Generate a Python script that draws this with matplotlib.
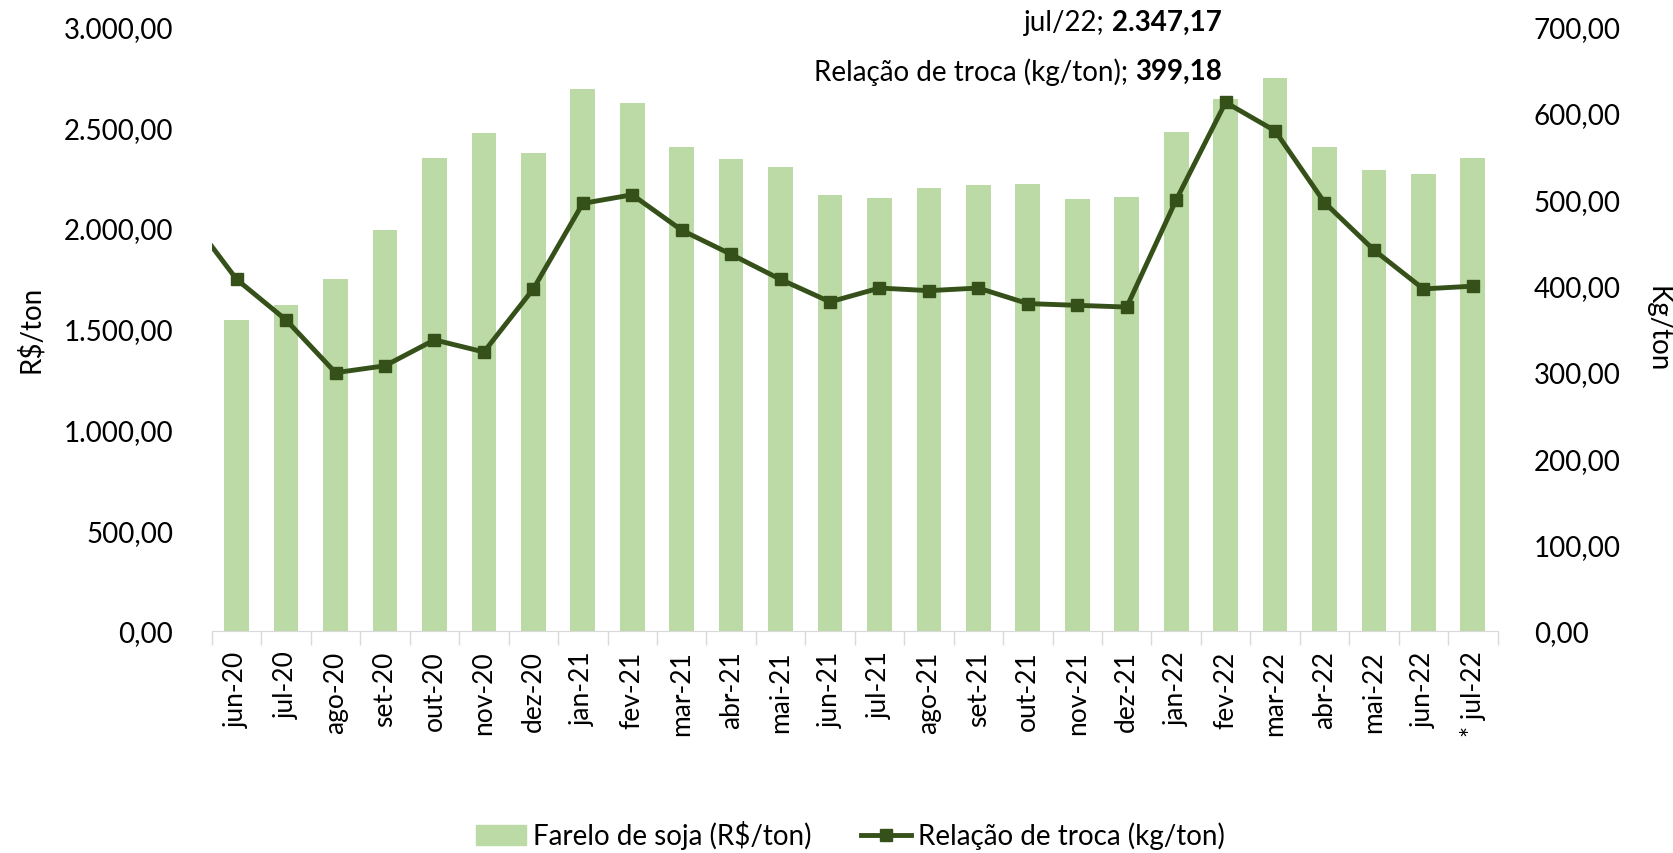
import numpy as np
import matplotlib.pyplot as plt
from matplotlib.ticker import FuncFormatter, FixedLocator
from matplotlib.lines import Line2D
from matplotlib.patches import Patch

plt.rcParams['font.family'] = ['Lato', 'DejaVu Sans']

months = ['jun-20', 'jul-20', 'ago-20', 'set-20', 'out-20', 'nov-20', 'dez-20',
          'jan-21', 'fev-21', 'mar-21', 'abr-21', 'mai-21', 'jun-21', 'jul-21',
          'ago-21', 'set-21', 'out-21', 'nov-21', 'dez-21', 'jan-22', 'fev-22',
          'mar-22', 'abr-22', 'mai-22', 'jun-22', '* jul-22']

farelo = [1545, 1619, 1746, 1989, 2349, 2471, 2370, 2688, 2619, 2402, 2344, 2302,
          2164, 2148, 2196, 2212, 2217, 2143, 2153, 2476, 2640, 2746, 2402, 2286,
          2265, 2347.17]

relacao = [407, 360, 299, 307, 337, 323, 396, 495, 505, 464, 436, 407, 381, 397,
           394, 397, 379, 377, 375, 499, 612, 579, 496, 441, 396, 399.18]

# previous month (mai-20), only its segment shows at the left edge
relacao_prev = 483

BAR_COLOR = '#bcdaa5'
LINE_COLOR = '#36501a'
FS = 20


def br(v, _=None):
    s = f"{v:,.2f}"
    return s.replace(',', 'X').replace('.', ',').replace('X', '.')


fig = plt.figure(figsize=(16.74, 8.54), dpi=100)
ax = fig.add_axes([0.1266, 0.26, 0.768, 0.708])
ax2 = ax.twinx()

x = np.arange(len(months))
ax.bar(x, farelo, width=0.5, color=BAR_COLOR, zorder=2)

xl = np.concatenate([[-1], x])
yl = [relacao_prev] + relacao
ax2.plot(xl, yl, color=LINE_COLOR, linewidth=3.5, marker='s', markersize=9,
         markevery=list(range(1, len(xl))), zorder=3, clip_on=True)

ax.set_xlim(-0.5, len(months) - 0.5)
ax.set_ylim(0, 3000)
ax2.set_ylim(0, 700)
ax.set_yticks(np.arange(0, 3001, 500))
ax2.set_yticks(np.arange(0, 701, 100))
ax.yaxis.set_major_formatter(FuncFormatter(br))
ax2.yaxis.set_major_formatter(FuncFormatter(br))

ax.set_xticks(x)
ax.set_xticklabels(months, rotation=90)
ax.xaxis.set_minor_locator(FixedLocator(np.arange(-0.5, len(months), 1)))
ax.tick_params(axis='x', which='major', length=0, pad=14, labelsize=19)
ax.tick_params(axis='x', which='minor', length=10, color='#d9d9d9', width=1)
ax.tick_params(axis='y', length=0, pad=28, labelsize=FS)
ax2.tick_params(axis='y', length=0, pad=26, labelsize=FS)

for a in (ax, ax2):
    for side in ('top', 'left', 'right'):
        a.spines[side].set_visible(False)
    a.spines['bottom'].set_color('#d9d9d9')
ax2.spines['bottom'].set_visible(False)

ax.set_ylabel('R$/ton', fontsize=FS, labelpad=14)
ax2.set_ylabel('Kg/ton', fontsize=FS, rotation=-90, labelpad=36)

# data labels for the last month
t1 = ax.annotate(br(farelo[-1]), xy=(1222 / 1674, 1 - 23 / 854), xycoords='figure fraction',
                 ha='right', va='center', fontsize=FS, fontweight='bold')
ax.annotate('jul/22; ', xy=(0, 0.5), xycoords=t1, ha='right', va='center', fontsize=FS)
t2 = ax.annotate(br(relacao[-1]), xy=(1222 / 1674, 1 - 72 / 854), xycoords='figure fraction',
                 ha='right', va='center', fontsize=FS, fontweight='bold')
ax.annotate('Relação de troca (kg/ton); ', xy=(0, 0.5), xycoords=t2, ha='right',
            va='center', fontsize=FS)

handles = [Patch(color=BAR_COLOR, label='Farelo de soja (R$/ton)'),
           Line2D([], [], color=LINE_COLOR, linewidth=3.5, marker='s', markersize=9,
                  label='Relação de troca (kg/ton)')]
fig.legend(handles=handles, loc='center', bbox_to_anchor=(0.508, 1 - 836 / 854),
           ncol=2, frameon=False, fontsize=FS, handlelength=1.8, columnspacing=1.8,
           handletextpad=0.25)

fig.savefig('out.png', dpi=100)
